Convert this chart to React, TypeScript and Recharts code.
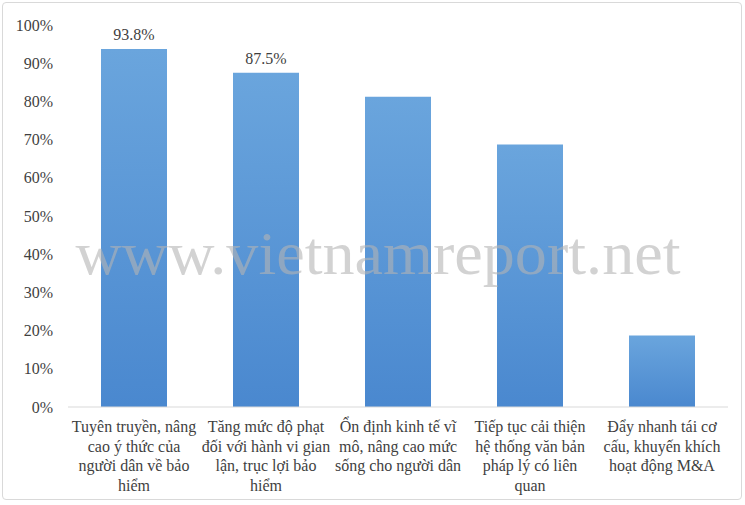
import { BarChart, Bar, XAxis, YAxis, LabelList } from "recharts";

const categories = [
  "Tuyên truyền, nâng\ncao ý thức của\nngười dân về bảo\nhiểm",
  "Tăng mức độ phạt\nđối với hành vi gian\nlận, trục lợi bảo\nhiểm",
  "Ổn định kinh tế vĩ\nmô, nâng cao mức\nsống cho người dân",
  "Tiếp tục cải thiện\nhệ thống văn bản\npháp lý có liên\nquan",
  "Đẩy nhanh tái cơ\ncấu, khuyến khích\nhoạt động M&A",
];
const values = [93.75, 87.5, 81.25, 68.75, 18.75];
const valueLabels = ["93.8%", "87.5%", null, null, null];
const yTicks = [0, 10, 20, 30, 40, 50, 60, 70, 80, 90, 100];

const data = categories.map((name, i) => ({
  name,
  value: values[i],
  label: valueLabels[i],
}));

const FONT = "'Liberation Serif', 'Times New Roman', 'DejaVu Serif', serif";
const TEXT = "#3f3f3f";

function CategoryTick({ x, y, payload }: any) {
  const lines: string[] = String(payload.value).split("\n");
  return (
    <text x={x} y={y} textAnchor="middle" style={{ fontFamily: FONT, fontSize: 16, fill: TEXT }}>
      {lines.map((l, i) => (
        <tspan key={i} x={x} dy={i === 0 ? 17 : 19.5}>
          {l}
        </tspan>
      ))}
    </text>
  );
}

export default function App() {
  return (
    <div style={{ position: "absolute", left: 0, top: 0, width: 745, height: 505, background: "#fff", fontFamily: FONT }}>
      <div
        style={{
          position: "absolute",
          left: 2,
          top: 2,
          width: 738,
          height: 496,
          border: "1px solid #d9d9d9",
          borderRadius: 4,
        }}
      />
      <BarChart
        width={745}
        height={505}
        data={data}
        margin={{ top: 25, right: 17, left: 0, bottom: 0 }}
        barCategoryGap="25%"
      >
        <defs>
          <linearGradient id="barFill" x1="0" y1="0" x2="0" y2="1">
            <stop offset="0%" stopColor="#6aa5dd" />
            <stop offset="100%" stopColor="#4a88cf" />
          </linearGradient>
        </defs>
        <XAxis
          dataKey="name"
          interval={0}
          height={98}
          tickLine={false}
          axisLine={{ stroke: "#d9d9d9" }}
          tick={<CategoryTick />}
        />
        <YAxis
          width={68}
          domain={[0, 100]}
          ticks={yTicks}
          tickFormatter={(v) => `${v}%`}
          tickLine={false}
          axisLine={false}
          tickSize={0}
          tickMargin={15}
          tick={{ style: { fontFamily: FONT, fontSize: 16 }, fill: TEXT }}
        />
        <Bar dataKey="value" fill="url(#barFill)" isAnimationActive={false}>
          <LabelList
            dataKey="label"
            position="top"
            offset={9}
            style={{ fontFamily: FONT, fontSize: 16, fill: TEXT }}
          />
        </Bar>
      </BarChart>
      {/* watermark sits on top of the bars, like in the source image */}
      <svg width={745} height={505} style={{ position: "absolute", left: 0, top: 0, pointerEvents: "none" }}>
        <text
          x={378}
          y={274}
          textAnchor="middle"
          style={{ fontFamily: FONT, fontSize: 62, fill: "#b4b4b4", fillOpacity: 0.6 }}
          textLength={605}
          lengthAdjust="spacingAndGlyphs"
        >
          www.vietnamreport.net
        </text>
      </svg>
    </div>
  );
}
